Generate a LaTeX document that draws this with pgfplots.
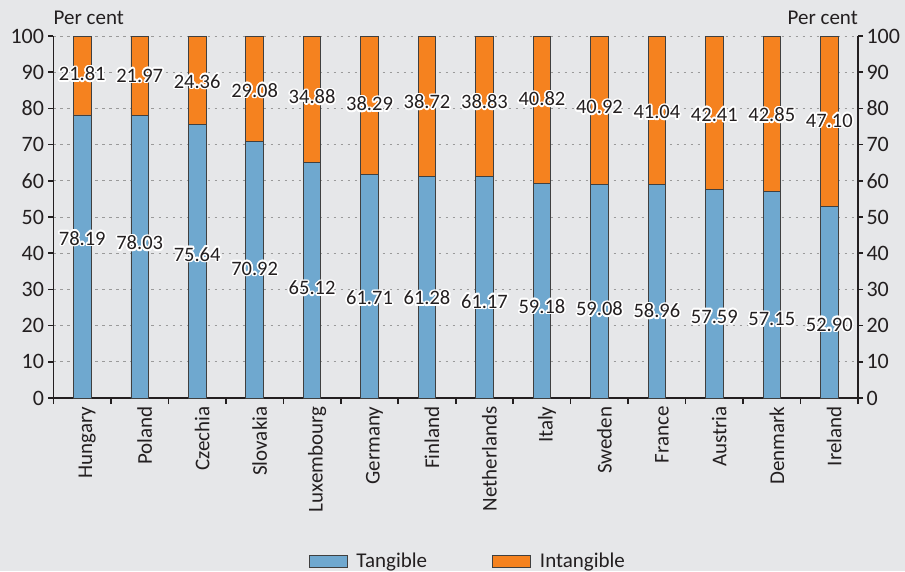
\documentclass[border=0pt]{standalone}
\usepackage{pgfplots}
\pgfplotsset{compat=1.18}
\usepackage{pgfplotstable}
\usepackage{fontspec}
\setmainfont{Carlito}
\usepackage[copies]{contour}
\contourlength{1.6pt}
\definecolor{bg}{HTML}{E6E7E9}
\definecolor{tang}{HTML}{6FA8CF}
\definecolor{intang}{HTML}{F5821F}
\definecolor{txt}{HTML}{231F20}
\definecolor{gridc}{HTML}{9A9A9A}

\pgfplotsset{rectlegend/.style={legend image code/.code={\draw[##1] (0pt,-6pt) rectangle (38pt,6pt);}}}

\pgfplotstableread{
x t i
0 78.19 21.81
1 78.03 21.97
2 75.64 24.36
3 70.92 29.08
4 65.12 34.88
5 61.71 38.29
6 61.28 38.72
7 61.17 38.83
8 59.18 40.82
9 59.08 40.92
10 58.96 41.04
11 57.59 42.41
12 57.15 42.85
13 52.90 47.10
}\data

\pgfplotstableread{
x y lab
0 43.9 78.19
1 42.6 78.03
2 39.5 75.64
3 35.5 70.92
4 30.2 65.12
5 27.4 61.71
6 27.4 61.28
7 26.5 61.17
8 25.1 59.18
9 24.4 59.08
10 23.8 58.96
11 22.2 57.59
12 21.5 57.15
13 20.1 52.90
}\tanlab

\pgfplotstableread{
x y lab
0 89.3 21.81
1 88.8 21.97
2 87.2 24.36
3 84.8 29.08
4 83.0 34.88
5 81.0 38.29
6 81.6 38.72
7 81.6 38.83
8 82.4 40.82
9 80.1 40.92
10 78.7 41.04
11 78.0 42.41
12 78.0 42.85
13 76.4 47.10
}\intlab

\newcommand\bigf{\fontsize{21}{25}\selectfont}
\newcommand\tickf{\fontsize{22}{26}\selectfont}
\newcommand\labf{\fontsize{20.5}{24}\selectfont}

\begin{document}
\begin{tikzpicture}
\fill[bg] (-53.5pt,-173pt) rectangle (851.5pt,398pt);
\useasboundingbox (-53.5pt,-173pt) rectangle (851.5pt,398pt);
\begin{axis}[
  scale only axis, width=804.5pt, height=362pt,
  at={(0pt,0pt)}, anchor=south west,
  ybar stacked, bar width=17.5pt,
  xmin=-0.5, xmax=13.5, ymin=0, ymax=100,
  axis x line*=bottom, axis y line*=left,
  axis line style={line width=1.8pt, color=txt},
  tick style={line width=1.6pt, color=txt},
  tick align=outside,
  major tick length=5pt, minor tick length=6pt,
  xtick={0,...,13},
  xticklabels={Hungary,Poland,Czechia,Slovakia,Luxembourg,Germany,Finland,Netherlands,Italy,Sweden,France,Austria,Denmark,Ireland},
  every major x tick/.append style={draw=none},
  minor xtick={-0.5,0.5,...,13.5},
  xticklabel style={rotate=90, anchor=east, font=\bigf, text=txt, yshift=-5pt},
  ytick={0,10,...,100},
  yticklabel style={font=\tickf, text=txt, xshift=-1pt},
  /pgf/number format/assume math mode=true,
  ymajorgrids,
  grid style={line width=1pt, color=gridc, dash pattern=on 2.5pt off 4.5pt},
  legend style={at={(0.515,-0.451)}, anchor=center, draw=none, fill=none,
    font=\bigf, text=txt, legend columns=2,
    /tikz/every even column/.append style={column sep=63pt},
    /tikz/every odd column/.append style={column sep=7pt}},
  clip=false,
]
\addplot[fill=tang, draw=black!75, line width=0.8pt, rectlegend]
  table[x=x, y=t]{\data};
\addlegendentry{Tangible}
\addplot[fill=intang, draw=black!75, line width=0.8pt, rectlegend]
  table[x=x, y=i]{\data};
\addlegendentry{Intangible}
\node[anchor=west, font=\bigf, text=txt, inner sep=0pt] at ([yshift=18pt]rel axis cs:0,1) {Per cent};
\node[anchor=east, font=\bigf, text=txt, inner sep=0pt] at ([yshift=18pt]rel axis cs:1,1) {Per cent};
\end{axis}
\begin{axis}[
  scale only axis, width=804.5pt, height=362pt,
  at={(0pt,0pt)}, anchor=south west,
  xmin=-0.5, xmax=13.5, ymin=0, ymax=100,
  axis x line=none, axis y line*=right,
  axis line style={line width=1.8pt, color=txt},
  tick style={line width=1.6pt, color=txt},
  tick align=outside, major tick length=5pt,
  ytick={0,10,...,100},
  yticklabel style={font=\tickf, text=txt},
  /pgf/number format/assume math mode=true,
  clip=false,
]
\addplot[only marks, mark=*, mark size=0pt, mark options={draw=none, fill=none},
  point meta=explicit symbolic,
  nodes near coords={\contour{white}{\pgfplotspointmeta}},
  every node near coord/.append style={anchor=center, font=\labf, text=txt, inner sep=0pt}]
  table[x=x, y=y, meta=lab]{\tanlab};
\addplot[only marks, mark=*, mark size=0pt, mark options={draw=none, fill=none},
  point meta=explicit symbolic,
  nodes near coords={\contour{white}{\pgfplotspointmeta}},
  every node near coord/.append style={anchor=center, font=\labf, text=txt, inner sep=0pt}]
  table[x=x, y=y, meta=lab]{\intlab};
\end{axis}
\end{tikzpicture}
\end{document}
